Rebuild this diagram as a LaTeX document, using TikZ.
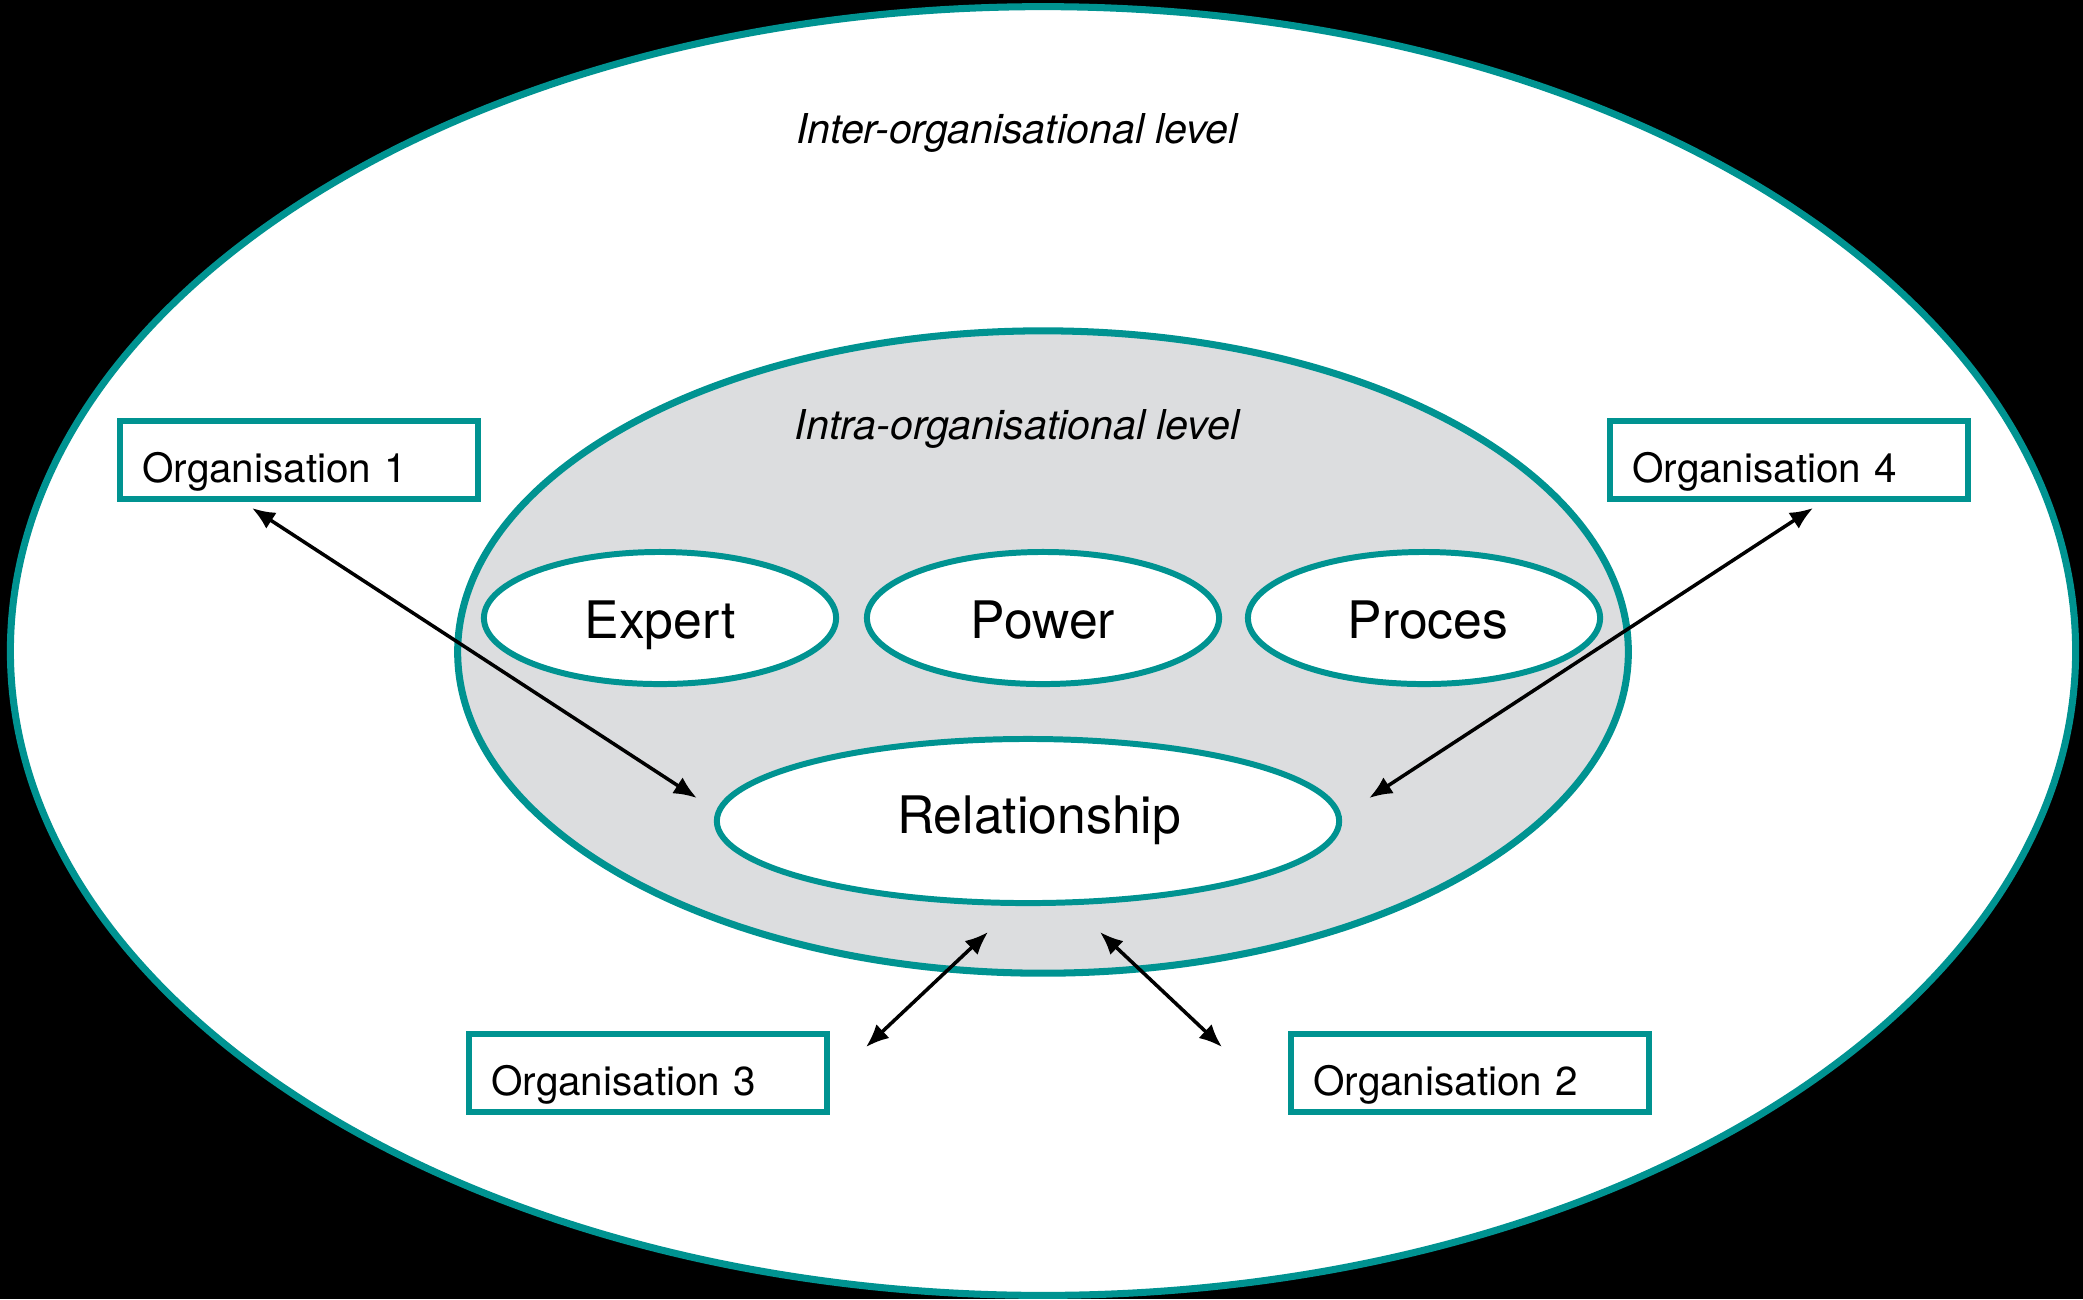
\documentclass[tikz,border=0pt]{standalone}
\usepackage{fontspec}
\setmainfont{TeX Gyre Heros}
\usepackage{tikz}
\usetikzlibrary{calc,arrows.meta,shapes}

\definecolor{tealline}{RGB}{0,147,145}
\definecolor{lightgrey}{RGB}{220,221,223}

\begin{document}
\begin{tikzpicture}[>={Latex[length=0.23cm,width=0.19cm]}, x=0.01cm, y=-0.01cm]
      \tikzset{
	  level/.style={ellipse, draw=tealline, line width=2pt, inner sep=0em},
	  topic/.style={ellipse, draw=tealline, fill=white, line width=1.7pt, inner sep=0em, text height=0.40cm, text depth=0cm, font=\fontsize{14.7}{17}\selectfont},
	  orgbox/.style={rectangle, draw=tealline, fill=white, line width=1.7pt, minimum width=3.57cm, minimum height=0.78cm, text width=3.13cm, inner xsep=0.22cm, text height=0.44cm, text depth=0cm, align=left, font=\fontsize{11.5}{14}\selectfont},
	  title/.style={anchor=base, font=\fontsize{11.7}{14}\selectfont\itshape},
	  link/.style={<->, line width=1pt}
      }

      %-----background and the two levels
      \fill[black] (0,0) rectangle (2083,1299);
      \useasboundingbox (0,0) rectangle (2083,1299);
      \node (inter) at (1043,651) [level, fill=white, minimum width=20.64cm, minimum height=12.88cm] {};
      \node (intra) at (1043,652) [level, fill=lightgrey, minimum width=11.70cm, minimum height=6.42cm] {};
      \node at (1017,143) [title] {Inter-organisational level};
      \node at (1017,439) [title] {Intra-organisational level};

      %-----topics inside the organisation
      \node (expert) at (660,618) [topic, minimum width=3.52cm, minimum height=1.32cm] {Expert};
      \node (power) at (1043,618) [topic, minimum width=3.52cm, minimum height=1.32cm] {Power};
      \node (proces) at (1424,618) [topic, minimum width=3.52cm, minimum height=1.32cm] {\hspace*{0.08cm}Proces};
      \node (rel) at (1028,821) [topic, minimum width=6.22cm, minimum height=1.64cm, text height=0.24cm] {\hspace*{0.22cm}Relationship};

      %-----the partner organisations
      \node (org1) at (299,460) [orgbox] {Organisation 1};
      \node (org4) at (1789,460) [orgbox] {Organisation 4};
      \node (org3) at (648,1073) [orgbox] {Organisation 3};
      \node (org2) at (1470,1073) [orgbox] {Organisation 2};

      \draw[link] ($(org1.south)+(-47,6)$) -- ($(rel.west)+(-17,-23)$);
      \draw[link] ($(org4.south)+(24,6)$) -- ($(rel.east)+(27,-23)$);
      \draw[link] ($(org3.north)+(218,16)$) -- ($(rel.south)+(-40,26)$);
      \draw[link] ($(org2.north)+(-248,16)$) -- ($(rel.south)+(72,26)$);
\end{tikzpicture}
\end{document}
